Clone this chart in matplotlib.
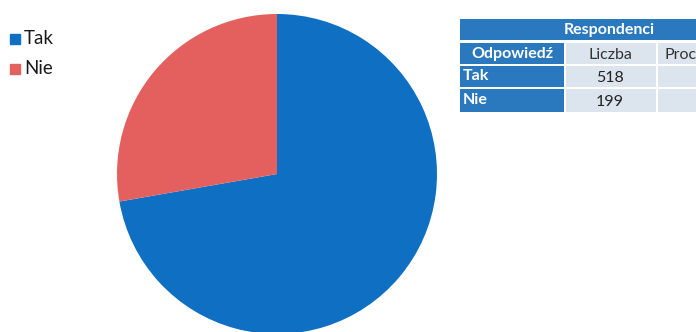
import matplotlib.pyplot as plt
from matplotlib.patches import Rectangle

labels = ["Tak", "Nie"]
counts = [518, 199]
colors = ["#0F6FC2", "#E4605F"]
table_title = "Respondenci"
col_headers = ["Odpowiedź", "Liczba", "Procent"]

W, H = 696, 332
plt.rcParams['font.family'] = ['Lato', 'DejaVu Sans']

fig = plt.figure(figsize=(W / 100, H / 100), dpi=100)

# pie: centre (277, 174) px, radius 160 px
cx, cy, r = 277, 174, 160
ax = fig.add_axes([(cx - r) / W, 1 - (cy + r) / H, 2 * r / W, 2 * r / H])
ax.pie(counts, colors=colors, startangle=90, counterclock=False,
       wedgeprops=dict(linewidth=0))
ax.set_aspect('auto')
ax.set_xlim(-1, 1)
ax.set_ylim(-1, 1)
ax.axis('off')

# legend
for i, (lab, col) in enumerate(zip(labels, colors)):
    y = 39 + 30 * i
    fig.patches.append(Rectangle((10 / W, 1 - (y + 5) / H), 10 / W, 10 / H,
                                 transform=fig.transFigure, color=col))
    fig.text(24 / W, 1 - y / H, lab, fontsize=13.5, va='center', color='#1a1a1a')

# table (pixel coords, y from top)
hdr_blue = "#2A79BF"
cell_bg = "#DCE4EE"


def cell(x0, y0, x1, y1, fc):
    fig.patches.append(Rectangle((x0 / W, 1 - y1 / H), (x1 - x0) / W, (y1 - y0) / H,
                                 transform=fig.transFigure, color=fc, lw=0))


def txt(x, y, s, **kw):
    fig.text(x / W, 1 - y / H, s, va='center', fontsize=11.5, **kw)


cell(460, 19, 700, 40, hdr_blue)
txt(609, 30, table_title, ha='center', color='white', fontweight='bold')

cols = [(460, 564), (566, 656), (658, 760)]
rows = [(43, 64), (66, 87), (89, 112)]

cell(cols[0][0], rows[0][0], cols[0][1], rows[0][1], hdr_blue)
txt(512, 54, col_headers[0], ha='center', color='white', fontweight='bold')
for x0, x1 in cols[1:]:
    cell(x0, rows[0][0], x1, rows[0][1], cell_bg)
txt(610, 55, col_headers[1], ha='center', color='#333333')
txt(665, 55, col_headers[2], ha='left', color='#333333')

for (y0, y1), lab, n in zip(rows[1:], labels, counts):
    cell(cols[0][0], y0, cols[0][1], y1, hdr_blue)
    txt(463, (y0 + y1) / 2, lab, ha='left', color='white', fontweight='bold')
    cell(cols[1][0], y0, cols[1][1], y1, cell_bg)
    txt(610, (y0 + y1) / 2 + 1, str(n), ha='center', color='#222222')
    cell(cols[2][0], y0, cols[2][1], y1, cell_bg)

fig.savefig("out.png", dpi=100)
